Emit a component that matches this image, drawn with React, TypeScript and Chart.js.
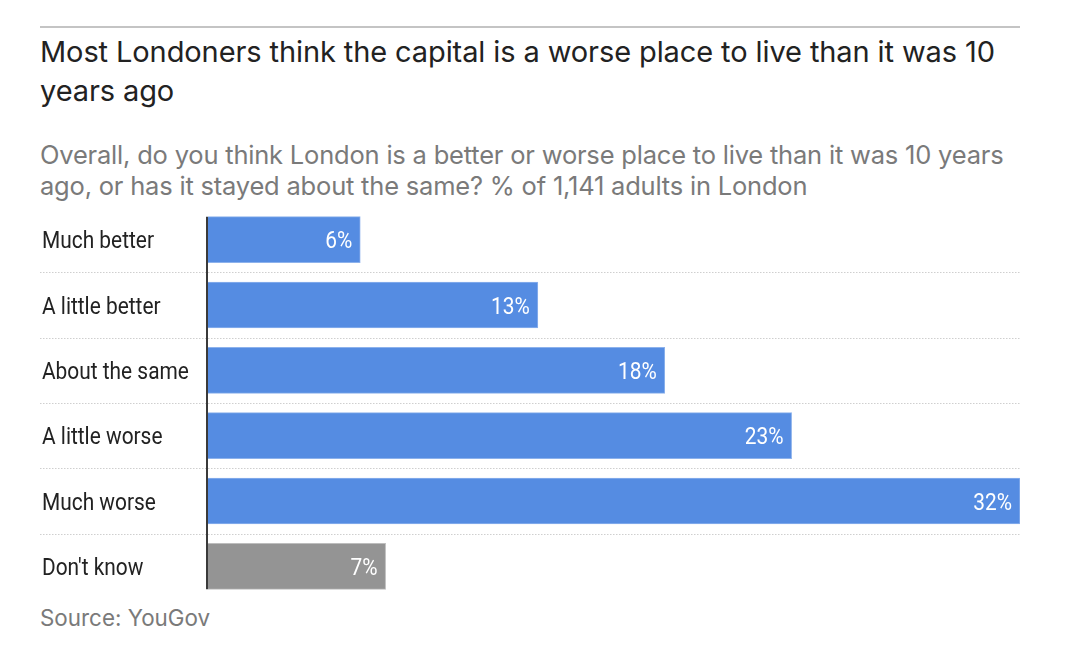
import React, { useEffect, useRef } from "react";
import { Chart, registerables } from "chart.js";

Chart.register(...registerables);

const categories = [
  "Much better",
  "A little better",
  "About the same",
  "A little worse",
  "Much worse",
  "Don't know",
];
const values = [6, 13, 18, 23, 32, 7];
const barColors = ["#558ce2", "#558ce2", "#558ce2", "#558ce2", "#558ce2", "#949494"];
const barBorders = ["#8db2ec", "#8db2ec", "#8db2ec", "#8db2ec", "#8db2ec", "#bdbdbd"];
const titleLines = [
  "Most Londoners think the capital is a worse place to live than it was 10",
  "years ago",
];
const subtitleLines = [
  "Overall, do you think London is a better or worse place to live than it was 10 years",
  "ago, or has it stayed about the same? % of 1,141 adults in London",
];
const sourceText = "Source: YouGov";

const LABEL_FONT = '24px Roboto, "Noto Sans", sans-serif';
const CONDENSE = 0.87;
const SANS = 'Inter, "Noto Sans", sans-serif';

const separatorPlugin = {
  id: "separators",
  beforeDatasetsDraw(chart: any) {
    const { ctx, chartArea } = chart;
    const y = chart.scales.y;
    ctx.save();
    ctx.strokeStyle = "#cfcfcf";
    ctx.lineWidth = 1;
    ctx.setLineDash([1.5, 1.5]);
    for (let i = 0; i < categories.length - 1; i++) {
      const py = Math.round((y.getPixelForValue(i) + y.getPixelForValue(i + 1)) / 2) + 0.5;
      ctx.beginPath();
      ctx.moveTo(40, py);
      ctx.lineTo(chartArea.right, py);
      ctx.stroke();
    }
    ctx.restore();
  },
};

const categoryLabelPlugin = {
  id: "categoryLabels",
  afterDraw(chart: any) {
    const { ctx } = chart;
    const y = chart.scales.y;
    const labels = y.getLabels();
    ctx.save();
    ctx.fillStyle = "#222222";
    ctx.font = LABEL_FONT;
    ctx.textAlign = "left";
    ctx.textBaseline = "alphabetic";
    labels.forEach((label: string, i: number) => {
      const py = y.getPixelForValue(i);
      ctx.save();
      ctx.translate(42, py + 8.5);
      ctx.scale(CONDENSE, 1);
      ctx.fillText(label, 0, 0);
      ctx.restore();
    });
    ctx.restore();
  },
};

const axisLinePlugin = {
  id: "axisLine",
  afterDatasetsDraw(chart: any) {
    const { ctx, chartArea } = chart;
    const bars = chart.getDatasetMeta(0).data;
    if (!bars.length) return;
    const first = bars[0];
    const last = bars[bars.length - 1];
    const top = first.y - first.height / 2;
    const bottom = last.y + last.height / 2;
    ctx.save();
    ctx.strokeStyle = "#3a3a3a";
    ctx.lineWidth = 2;
    ctx.beginPath();
    ctx.moveTo(chartArea.left - 1, top);
    ctx.lineTo(chartArea.left - 1, bottom);
    ctx.stroke();
    ctx.restore();
  },
};

const valueLabelPlugin = {
  id: "valueLabels",
  afterDatasetsDraw(chart: any) {
    const { ctx } = chart;
    const bars = chart.getDatasetMeta(0).data;
    ctx.save();
    ctx.fillStyle = "#ffffff";
    ctx.font = LABEL_FONT;
    ctx.textAlign = "right";
    ctx.textBaseline = "alphabetic";
    bars.forEach((bar: any, i: number) => {
      ctx.save();
      ctx.translate(bar.x - 8, bar.y + 8.5);
      ctx.scale(CONDENSE, 1);
      ctx.fillText(`${values[i]}%`, 0, 0);
      ctx.restore();
    });
    ctx.restore();
  },
};

export default function App() {
  const canvasRef = useRef<HTMLCanvasElement | null>(null);

  useEffect(() => {
    if (!canvasRef.current) return;
    const chart = new Chart(canvasRef.current, {
      type: "bar",
      data: {
        labels: categories,
        datasets: [
          {
            data: values,
            backgroundColor: barColors,
            borderColor: barBorders,
            borderWidth: 1,
            borderSkipped: "left",
            barThickness: 46,
          },
        ],
      },
      options: {
        indexAxis: "y",
        responsive: false,
        animation: false,
        maintainAspectRatio: false,
        layout: { padding: { left: 42, right: 60, top: 7, bottom: 1 } },
        plugins: {
          legend: { display: false },
          tooltip: { enabled: false },
          title: { display: false },
        },
        scales: {
          x: {
            display: false,
            min: 0,
            max: 32,
          },
          y: {
            afterFit(scale: any) {
              scale.width = 166;
            },
            grid: { display: false },
            border: { display: false },
            ticks: { display: false, padding: 0 },
          },
        },
      },
      plugins: [separatorPlugin, axisLinePlugin, valueLabelPlugin, categoryLabelPlugin],
    });
    return () => chart.destroy();
  }, []);

  return (
    <div
      style={{
        position: "absolute",
        left: 0,
        top: 0,
        width: 1080,
        height: 653,
        background: "#ffffff",
        overflow: "hidden",
      }}
    >
      <div
        style={{
          position: "absolute",
          left: 40,
          top: 26,
          width: 980,
          height: 0,
          borderTop: "2px solid #c4c4c4",
        }}
      />
      <div
        style={{
          position: "absolute",
          left: 40,
          top: 33.3,
          fontFamily: SANS,
          fontSize: 29,
          lineHeight: "38.5px",
          color: "#222222",
          whiteSpace: "nowrap",
          letterSpacing: "-0.1px",
        }}
      >
        {titleLines[0]}
        <br />
        {titleLines[1]}
      </div>
      <div
        style={{
          position: "absolute",
          left: 40,
          top: 138.5,
          fontFamily: SANS,
          fontSize: 25.5,
          lineHeight: "31px",
          color: "#7a7a7a",
          whiteSpace: "nowrap",
          letterSpacing: "-0.2px",
        }}
      >
        {subtitleLines[0]}
        <br />
        {subtitleLines[1]}
      </div>
      <canvas
        ref={canvasRef}
        width={1080}
        height={400}
        style={{ position: "absolute", left: 0, top: 200, width: 1080, height: 400 }}
      />
      <div
        style={{
          position: "absolute",
          left: 40,
          top: 604,
          fontFamily: SANS,
          fontSize: 22.4,
          lineHeight: "28px",
          color: "#7a7a7a",
          whiteSpace: "nowrap",
        }}
      >
        {sourceText}
      </div>
    </div>
  );
}
